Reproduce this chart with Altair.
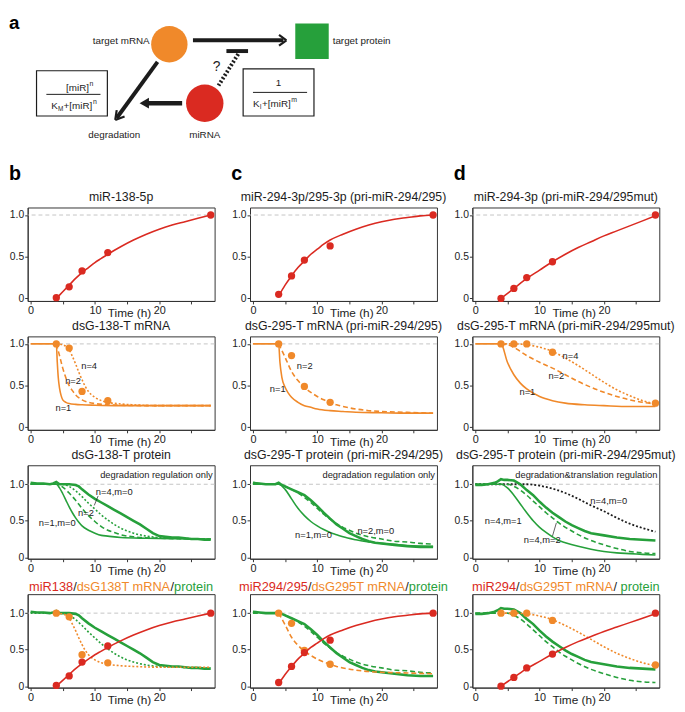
import altair as alt
import pandas as pd

FONT = "Liberation Sans"
RED = "#da2a21"
ORANGE = "#f0892a"
GREEN = "#26a03b"
INK = "#1c1c1c"
REFC = "#c4c4c4"

# ================= column b : miR-138 =================
b_mir_t = [4, 5, 6, 7, 8, 9, 10, 11, 12, 14, 16, 18, 20, 22, 24, 26, 28]
b_mir_v = [0.0, 0.08, 0.16, 0.24, 0.31, 0.37, 0.43, 0.48, 0.53, 0.62, 0.70, 0.77, 0.83, 0.88, 0.92, 0.96, 1.0]
b_mir_pt_t = [4, 6, 8, 12, 28]
b_mir_pt_v = [0.01, 0.14, 0.33, 0.55, 1.0]

b_n1_t = [0, 4, 4.15, 4.3, 4.5, 4.75, 5, 5.5, 6, 7, 8, 10, 14, 20, 28]
b_n1_v = [1, 1, 0.78, 0.6, 0.47, 0.38, 0.33, 0.3, 0.285, 0.275, 0.27, 0.265, 0.26, 0.26, 0.26]
b_n2_t = [4, 4.5, 5, 5.5, 6, 6.5, 7, 8, 9, 10, 12, 14, 18, 28]
b_n2_v = [1, 0.86, 0.71, 0.59, 0.5, 0.44, 0.39, 0.33, 0.3, 0.285, 0.27, 0.265, 0.26, 0.26]
b_n4_t = [4, 5, 5.5, 6, 6.5, 7, 7.5, 8, 8.5, 9, 10, 11, 12, 14, 16, 20, 28]
b_n4_v = [1, 0.99, 0.97, 0.93, 0.85, 0.76, 0.66, 0.57, 0.49, 0.43, 0.36, 0.32, 0.3, 0.28, 0.27, 0.26, 0.26]
b_mrna_pt_t = [4, 6, 8, 12]
b_mrna_pt_v = [1.0, 0.95, 0.43, 0.32]
b_mrna_lab = ["n=4", "n=2", "n=1"]
b_mrna_lab_t = [9.1, 6.6, 5.1]
b_mrna_lab_v = [0.74, 0.55, 0.23]

b_prot_t = [0, 1, 2, 3, 3.5, 4, 4.5, 5, 6, 7, 7.5, 8, 9, 10, 11, 12, 13, 14, 15, 16, 17, 18, 19, 20, 21, 22, 23, 24, 25, 26, 27, 28]
b_prot_v = [1.02, 1.01, 1.01, 1.0, 1.01, 1.03, 1.0, 1.0, 1.0, 0.99, 0.97, 0.93, 0.86, 0.8, 0.75, 0.7, 0.65, 0.6, 0.55, 0.5, 0.45, 0.39, 0.33, 0.29, 0.28, 0.27, 0.27, 0.26, 0.25, 0.25, 0.24, 0.24]
b_p_n1_t = [0, 4, 4.5, 5, 5.5, 6, 6.5, 7, 7.5, 8, 9, 10, 11, 12, 14, 18, 28]
b_p_n1_v = [1, 1, 0.95, 0.87, 0.78, 0.69, 0.61, 0.54, 0.48, 0.43, 0.37, 0.33, 0.3, 0.29, 0.27, 0.26, 0.25]
b_p_n2_t = [0, 4, 5, 6, 7, 8, 9, 10, 11, 12, 13, 14, 16, 20, 28]
b_p_n2_v = [1, 1, 0.96, 0.88, 0.78, 0.67, 0.57, 0.49, 0.42, 0.37, 0.34, 0.31, 0.28, 0.26, 0.25]
b_p_n4_t = [0, 5, 6, 7, 8, 9, 10, 11, 12, 13, 14, 15, 16, 18, 20, 28]
b_p_n4_v = [1, 1, 0.97, 0.91, 0.83, 0.74, 0.66, 0.58, 0.51, 0.45, 0.4, 0.36, 0.33, 0.29, 0.27, 0.25]
b_prot_lab = ["n=4,m=0", "n=2", "n=1,m=0"]
b_prot_lab_t = [13.0, 8.6, 4.15]
b_prot_lab_v = [0.89, 0.6, 0.47]
b_lead_t, b_lead_v, b_lead_t2, b_lead_v2 = [10.5], [0.84], [9.9], [0.71]

# ================= column c : miR-294/295 =================
c_mir_t = [4, 5, 6, 7, 8, 9, 10, 11, 12, 14, 16, 18, 20, 22, 24, 26, 28]
c_mir_v = [0.03, 0.16, 0.27, 0.37, 0.45, 0.53, 0.59, 0.65, 0.70, 0.77, 0.83, 0.88, 0.92, 0.95, 0.97, 0.99, 1.0]
c_mir_pt_t = [4, 6, 8, 12, 28]
c_mir_pt_v = [0.05, 0.27, 0.46, 0.63, 1.0]

c_n1_t = [0, 4, 4.2, 4.5, 5, 5.5, 6, 7, 8, 9, 10, 12, 14, 16, 20, 24, 28]
c_n1_v = [1, 1, 0.78, 0.6, 0.48, 0.41, 0.36, 0.3, 0.26, 0.24, 0.22, 0.2, 0.19, 0.18, 0.175, 0.17, 0.17]
c_n2_t = [4, 5, 6, 7, 8, 9, 10, 11, 12, 13, 14, 16, 18, 20, 24, 28]
c_n2_v = [1, 0.84, 0.67, 0.56, 0.48, 0.42, 0.37, 0.33, 0.3, 0.27, 0.25, 0.22, 0.2, 0.19, 0.18, 0.17]
c_mrna_pt_t = [4, 6, 8, 12]
c_mrna_pt_v = [1.0, 0.86, 0.49, 0.30]
c_mrna_lab = ["n=2", "n=1"]
c_mrna_lab_t = [8.05, 3.85]
c_mrna_lab_v = [0.73, 0.46]

c_prot_t = [0, 1, 2, 3, 3.5, 4, 4.5, 5, 6, 7, 8, 9, 10, 11, 12, 13, 14, 15, 16, 17, 18, 19, 20, 22, 24, 26, 28]
c_prot_v = [1.02, 1.01, 1.0, 1.0, 1.0, 1.02, 0.99, 0.97, 0.93, 0.89, 0.85, 0.78, 0.7, 0.61, 0.53, 0.45, 0.39, 0.33, 0.29, 0.25, 0.22, 0.2, 0.19, 0.17, 0.15, 0.14, 0.14]
c_p_n1_t = [0, 4, 5, 6, 7, 8, 9, 10, 11, 12, 13, 14, 16, 18, 20, 24, 28]
c_p_n1_v = [1, 1, 0.93, 0.8, 0.67, 0.57, 0.49, 0.43, 0.38, 0.34, 0.31, 0.28, 0.24, 0.21, 0.19, 0.16, 0.15]
c_p_n2_t = [0, 4, 5, 6, 7, 8, 9, 10, 11, 12, 13, 14, 15, 16, 18, 20, 22, 24, 26, 28]
c_p_n2_v = [1, 1, 0.97, 0.93, 0.88, 0.82, 0.75, 0.67, 0.59, 0.52, 0.46, 0.41, 0.37, 0.33, 0.28, 0.25, 0.22, 0.21, 0.19, 0.18]
c_prot_lab = ["n=1,m=0", "n=2,m=0"]
c_prot_lab_t = [9.4, 19.1]
c_prot_lab_v = [0.30, 0.36]

# ================= column d : miR-294 (mut) =================
d_mir_t = [4, 6, 8, 10, 12, 14, 16, 18, 20, 22, 24, 26, 28]
d_mir_v = [0.0, 0.12, 0.24, 0.34, 0.44, 0.53, 0.61, 0.68, 0.75, 0.81, 0.87, 0.93, 0.99]
d_mir_pt_t = [4, 6, 8, 12, 28]
d_mir_pt_v = [0.0, 0.12, 0.25, 0.44, 1.0]

d_n1_t = [0, 4, 5, 6, 7, 8, 10, 12, 14, 17, 20, 24, 28]
d_n1_v = [1, 1, 0.78, 0.63, 0.53, 0.46, 0.37, 0.32, 0.29, 0.27, 0.26, 0.25, 0.25]
d_n2_t = [4, 5, 6, 7, 8, 10, 12, 14, 16, 18, 20, 22, 24, 26, 28]
d_n2_v = [1, 0.99, 0.96, 0.91, 0.86, 0.78, 0.71, 0.63, 0.55, 0.48, 0.42, 0.37, 0.33, 0.30, 0.28]
d_n4_t = [4, 6, 8, 10, 12, 14, 16, 18, 20, 22, 24, 26, 28]
d_n4_v = [1, 1, 0.99, 0.96, 0.91, 0.83, 0.74, 0.64, 0.54, 0.45, 0.38, 0.32, 0.28]
d_mrna_pt_t = [4, 6, 8, 12, 28]
d_mrna_pt_v = [1.0, 1.0, 1.0, 0.9, 0.29]
d_mrna_lab = ["n=4", "n=2", "n=1"]
d_mrna_lab_t = [14.8, 12.6, 8.1]
d_mrna_lab_v = [0.86, 0.62, 0.42]

d_prot_t = [0, 1, 2, 3, 3.5, 4, 4.5, 5, 6, 7, 8, 9, 10, 11, 12, 13, 14, 15, 16, 17, 18, 20, 22, 24, 26, 28]
d_prot_v = [0.99, 0.99, 1.0, 1.02, 1.04, 1.07, 1.06, 1.06, 1.05, 1.0, 0.92, 0.85, 0.76, 0.68, 0.61, 0.55, 0.49, 0.44, 0.4, 0.36, 0.33, 0.3, 0.27, 0.25, 0.24, 0.23]
d_p_m0_t = [0, 4, 6, 8, 10, 12, 14, 16, 18, 20, 22, 24, 26, 28]
d_p_m0_v = [1, 1, 1, 1.0, 0.98, 0.94, 0.88, 0.8, 0.71, 0.63, 0.54, 0.46, 0.4, 0.35]
d_p_m1_t = [0, 4, 5, 6, 7, 8, 9, 10, 11, 12, 13, 14, 16, 18, 20, 22, 24, 26, 28]
d_p_m1_v = [1, 1, 0.95, 0.85, 0.73, 0.61, 0.5, 0.41, 0.34, 0.28, 0.23, 0.2, 0.15, 0.11, 0.08, 0.06, 0.05, 0.04, 0.03]
d_p_m2_t = [0, 4, 5, 6, 7, 8, 9, 10, 11, 12, 13, 14, 15, 16, 18, 20, 22, 24, 26, 28]
d_p_m2_v = [1, 1, 1, 0.97, 0.92, 0.85, 0.77, 0.69, 0.61, 0.54, 0.47, 0.41, 0.36, 0.31, 0.23, 0.17, 0.12, 0.08, 0.06, 0.05]
d_prot_lab = ["n=4,m=0", "n=4,m=1", "n=4,m=2"]
d_prot_lab_t = [20.75, 4.35, 10.4]
d_prot_lab_v = [0.77, 0.5, 0.24]
d_lead_t, d_lead_v, d_lead_t2, d_lead_v2 = [12.0], [0.29], [12.6], [0.47]

# ================= titles =================
titles_row1 = ["miR-138-5p", "miR-294-3p/295-3p (pri-miR-294/295)", "miR-294-3p (pri-miR-294/295mut)"]
titles_row2 = ["dsG-138-T mRNA", "dsG-295-T mRNA (pri-miR-294/295)", "dsG-295-T mRNA (pri-miR-294/295mut)"]
titles_row3 = ["dsG-138-T protein", "dsG-295-T protein (pri-miR-294/295)", "dsG-295-T protein (pri-miR-294/295mut)"]
titles_row4 = [
    [("miR138", RED), ("/", INK), ("dsG138T mRNA", ORANGE), ("/", INK), ("protein", GREEN)],
    [("miR294/295", RED), ("/", INK), ("dsG295T mRNA", ORANGE), ("/", INK), ("protein", GREEN)],
    [("miR294", RED), ("/", INK), ("dsG295T mRNA", ORANGE), ("/ ", INK), ("protein", GREEN)],
]
notes_row3 = ["degradation regulation only", "degradation regulation only", "degradation&translation regulation"]

# ================= diagram (panel a) + panel letters =================
rule_x = [192, 287, 287, 156, 113, 113, 181, 226, 43, 253]
rule_y = [34, 34, 34, 56, 115, 115, 98, 45, 89, 87]
rule_x2 = [284, 279.5, 279.5, 114.5, 122.5, 114.5, 146, 248, 98, 308]
rule_y2 = [34, 28.5, 39.5, 113, 111.5, 105, 98, 45, 89, 87]
rule_w = [4, 2.2, 2.2, 4, 2.2, 2.2, 4.5, 4, 1, 1]
dot_x, dot_y, dot_x2, dot_y2 = [238], [48], [218], [80]
node_x = [168, 204]
node_y = [38, 98]
node_c = [ORANGE, RED]
node_s = [1369, 1444]
sq_x, sq_x2, sq_y, sq_y2 = [296], [330], [17], [53]
box_x = [33, 243]
box_x2 = [105, 315]
box_y = [65, 63]
box_y2 = [111, 111]
tl_text = ["target protein", "[miR]", "n", "K", "M", "+[miR]", "n", "K", "I", "+[miR]", "m"]
tl_x = [334, 63, 86.8, 48, 54.8, 60.5, 90.5, 253, 259.8, 262.3, 291.8]
tl_y = [35, 83, 79, 101, 103.5, 101, 97, 99, 101.5, 99, 95]
tl_s = [10, 10, 7, 10, 6.5, 10, 7, 10, 6.5, 10, 7]
tc_text = ["?", "degradation", "miRNA", "1"]
tc_x = [216, 112, 204, 279]
tc_y = [61, 130, 130, 77]
tc_s = [14, 10, 10, 10]
tr_text = ["target mRNA"]
tr_x = [148]
tr_y = [35]
tr_s = [10]
letter_text = ["b", "c", "d"]
letter_x = [5, 231, 457]
letter_y = [176, 176, 176]

# ================= helpers =================
AW = {'m': 833, 'i': 222, 'R': 722, '1': 556, '3': 556, '8': 556, '/': 278, 'd': 556, 's': 500,
      'G': 778, 'T': 611, ' ': 278, 'N': 722, 'A': 667, 'p': 556, 'r': 333, 'o': 556, 't': 278,
      'e': 556, 'n': 556, '2': 556, '9': 556, '5': 556, '4': 556, 'M': 833}


def tw(s, size):
    return sum(AW.get(ch, 556) for ch in s) * size / 1000.0


DUMMY = pd.DataFrame({"k": [0]})
W, H = 190, 95
XDOM = [-0.45, 28.6]
Y12 = [-0.03, 1.09]
Y34 = [-0.02, 1.26]

XAXIS = alt.Axis(values=[0, 5, 10, 15, 20, 25],
                 labelExpr="datum.value % 10 == 0 ? datum.label : ''",
                 title="Time (h)", titleX=103, titleY=7, titleBaseline="top",
                 titleFontSize=12, titleFontWeight="normal", labelFontSize=11,
                 tickSize=3, labelPadding=1, labelAngle=0, labelOverlap=False, grid=False)
YAXIS = alt.Axis(values=[0, 0.25, 0.5, 0.75, 1.0],
                 labelExpr="datum.value == 0 ? '0' : datum.value == 0.5 ? '0.5' : datum.value == 1 ? '1.0' : ''",
                 title=None, labelFontSize=10.5, tickSize=3, labelPadding=1, grid=False)


def enc(chart, ydom):
    return chart.encode(
        x=alt.X("t:Q", scale=alt.Scale(domain=XDOM, nice=False, zero=False), axis=XAXIS),
        y=alt.Y("v:Q", scale=alt.Scale(domain=ydom, nice=False, zero=False), axis=YAXIS),
    )


def curve(t, v, color, dash=None, width=1.6, interp="monotone"):
    kw = dict(color=color, strokeWidth=width, interpolate=interp)
    if dash:
        kw["strokeDash"] = dash
    return alt.Chart(pd.DataFrame({"t": t, "v": v})).mark_line(**kw)


def data_line(t, v):
    return curve(t, v, GREEN, width=2.6, interp="linear")


def dots(t, v, color):
    return alt.Chart(pd.DataFrame({"t": t, "v": v})).mark_circle(size=55, color=color, opacity=1)


def labels(texts, t, v, size=9.5, align="center"):
    return alt.Chart(pd.DataFrame({"t": t, "v": v, "s": texts})).mark_text(
        font=FONT, fontSize=size, color=INK, align=align, baseline="middle").encode(text="s:N")


def leader(t, v, t2, v2):
    return alt.Chart(pd.DataFrame({"t": t, "v": v, "t2": t2, "v2": v2})).mark_rule(
        color=INK, strokeWidth=0.7).encode(x2="t2:Q", y2="v2:Q")


def ref_rule():
    return alt.Chart(DUMMY).mark_rule(color=REFC, strokeDash=[4, 3], strokeWidth=1).encode(
        y=alt.datum(1.0))


def colored_title(segs, size=13):
    total = sum(tw(s, size) for s, _ in segs)
    x = (W - total) / 2.0
    out = []
    for s, col in segs:
        out.append(alt.Chart(DUMMY).mark_text(text=s, font=FONT, fontSize=size, color=col,
                                              align="left", baseline="alphabetic").encode(
            x=alt.value(x), y=alt.value(-3)))
        x += tw(s, size)
    return out


def panel(ydom, layers, extras=(), title=None):
    ch = alt.layer(ref_rule(), *[enc(l, ydom) for l in layers], *extras).properties(width=W, height=H)
    if title:
        ch = ch.properties(title=alt.TitleParams(title, fontSize=12.5, fontWeight="normal",
                                                 font=FONT, color=INK, offset=4))
    return ch


def note(text):
    return labels([text], [28.3], [1.13], size=9.5, align="right")


# ================= panels =================
row1 = [
    panel(Y12, [curve(b_mir_t, b_mir_v, RED), dots(b_mir_pt_t, b_mir_pt_v, RED)], (), titles_row1[0]),
    panel(Y12, [curve(c_mir_t, c_mir_v, RED), dots(c_mir_pt_t, c_mir_pt_v, RED)], (), titles_row1[1]),
    panel(Y12, [curve(d_mir_t, d_mir_v, RED), dots(d_mir_pt_t, d_mir_pt_v, RED)], (), titles_row1[2]),
]

row2 = [
    panel(Y12, [curve(b_n1_t, b_n1_v, ORANGE),
                curve(b_n2_t, b_n2_v, ORANGE, dash=[5, 3]),
                curve(b_n4_t, b_n4_v, ORANGE, dash=[2, 2]),
                dots(b_mrna_pt_t, b_mrna_pt_v, ORANGE),
                labels(b_mrna_lab, b_mrna_lab_t, b_mrna_lab_v)], (), titles_row2[0]),
    panel(Y12, [curve(c_n1_t, c_n1_v, ORANGE),
                curve(c_n2_t, c_n2_v, ORANGE, dash=[5, 3]),
                dots(c_mrna_pt_t, c_mrna_pt_v, ORANGE),
                labels(c_mrna_lab, c_mrna_lab_t, c_mrna_lab_v)], (), titles_row2[1]),
    panel(Y12, [curve(d_n1_t, d_n1_v, ORANGE),
                curve(d_n2_t, d_n2_v, ORANGE, dash=[5, 3]),
                curve(d_n4_t, d_n4_v, ORANGE, dash=[2, 2]),
                dots(d_mrna_pt_t, d_mrna_pt_v, ORANGE),
                labels(d_mrna_lab, d_mrna_lab_t, d_mrna_lab_v)], (), titles_row2[2]),
]

row3 = [
    panel(Y34, [curve(b_p_n1_t, b_p_n1_v, GREEN),
                curve(b_p_n2_t, b_p_n2_v, GREEN, dash=[5, 3]),
                curve(b_p_n4_t, b_p_n4_v, GREEN, dash=[2, 2]),
                data_line(b_prot_t, b_prot_v),
                leader(b_lead_t, b_lead_v, b_lead_t2, b_lead_v2),
                labels(b_prot_lab, b_prot_lab_t, b_prot_lab_v),
                note(notes_row3[0])], (), titles_row3[0]),
    panel(Y34, [curve(c_p_n1_t, c_p_n1_v, GREEN),
                curve(c_p_n2_t, c_p_n2_v, GREEN, dash=[5, 3]),
                data_line(c_prot_t, c_prot_v),
                labels(c_prot_lab, c_prot_lab_t, c_prot_lab_v),
                note(notes_row3[1])], (), titles_row3[1]),
    panel(Y34, [curve(d_p_m0_t, d_p_m0_v, INK, dash=[2, 2], width=1.8),
                curve(d_p_m1_t, d_p_m1_v, GREEN),
                curve(d_p_m2_t, d_p_m2_v, GREEN, dash=[5, 3]),
                data_line(d_prot_t, d_prot_v),
                leader(d_lead_t, d_lead_v, d_lead_t2, d_lead_v2),
                labels(d_prot_lab, d_prot_lab_t, d_prot_lab_v),
                note(notes_row3[2])], (), titles_row3[2]),
]

row4 = [
    panel(Y34, [curve(b_p_n4_t, b_p_n4_v, GREEN, dash=[2, 2]),
                data_line(b_prot_t, b_prot_v),
                curve(b_n4_t, b_n4_v, ORANGE, dash=[2, 2]),
                dots(b_mrna_pt_t, b_mrna_pt_v, ORANGE),
                curve(b_mir_t, b_mir_v, RED),
                dots(b_mir_pt_t, b_mir_pt_v, RED)], colored_title(titles_row4[0])),
    panel(Y34, [curve(c_p_n2_t, c_p_n2_v, GREEN, dash=[5, 3]),
                data_line(c_prot_t, c_prot_v),
                curve(c_n2_t, c_n2_v, ORANGE, dash=[5, 3]),
                dots(c_mrna_pt_t, c_mrna_pt_v, ORANGE),
                curve(c_mir_t, c_mir_v, RED),
                dots(c_mir_pt_t, c_mir_pt_v, RED)], colored_title(titles_row4[1])),
    panel(Y34, [curve(d_p_m2_t, d_p_m2_v, GREEN, dash=[5, 3]),
                data_line(d_prot_t, d_prot_v),
                curve(d_n4_t, d_n4_v, ORANGE, dash=[2, 2]),
                dots(d_mrna_pt_t, d_mrna_pt_v, ORANGE),
                curve(d_mir_t, d_mir_v, RED),
                dots(d_mir_pt_t, d_mir_pt_v, RED)], colored_title(titles_row4[2])),
]

# ================= diagram =================
DX0, DW = 24, 640
DY0, DH = 8, 172
XS = alt.Scale(domain=[DX0, DX0 + DW], nice=False, zero=False)
YS = alt.Scale(domain=[DY0, DY0 + DH], nice=False, zero=False, reverse=True)


def dx(f):
    return alt.X(f, scale=XS, axis=None)


def dy(f):
    return alt.Y(f, scale=YS, axis=None)


d_rules = alt.Chart(pd.DataFrame({"x": rule_x, "y": rule_y, "x2": rule_x2, "y2": rule_y2, "w": rule_w})).mark_rule(
    color=INK, strokeCap="butt").encode(x=dx("x:Q"), y=dy("y:Q"), x2="x2:Q", y2="y2:Q",
                                        strokeWidth=alt.StrokeWidth("w:Q", scale=None))
d_dotted = alt.Chart(pd.DataFrame({"x": dot_x, "y": dot_y, "x2": dot_x2, "y2": dot_y2})).mark_rule(
    color=INK, strokeWidth=4, strokeDash=[2, 2], strokeCap="butt").encode(
    x=dx("x:Q"), y=dy("y:Q"), x2="x2:Q", y2="y2:Q")
d_nodes = alt.Chart(pd.DataFrame({"x": node_x, "y": node_y, "c": node_c, "s": node_s})).mark_point(
    filled=True, shape="circle", opacity=1).encode(
    x=dx("x:Q"), y=dy("y:Q"), color=alt.Color("c:N", scale=None), size=alt.Size("s:Q", scale=None))
d_head = alt.Chart(pd.DataFrame({"x": [142.5], "y": [98]})).mark_point(
    filled=True, shape="triangle-left", size=120, color=INK, opacity=1).encode(x=dx("x:Q"), y=dy("y:Q"))
d_square = alt.Chart(pd.DataFrame({"x": sq_x, "x2": sq_x2, "y": sq_y, "y2": sq_y2})).mark_rect(
    color=GREEN).encode(x=dx("x:Q"), x2="x2:Q", y=dy("y:Q"), y2="y2:Q")
d_boxes = alt.Chart(pd.DataFrame({"x": box_x, "x2": box_x2, "y": box_y, "y2": box_y2})).mark_rect(
    fillOpacity=0, stroke=INK, strokeWidth=1.2).encode(x=dx("x:Q"), x2="x2:Q", y=dy("y:Q"), y2="y2:Q")


def dtext(texts, xs, ys, sizes, align):
    return alt.Chart(pd.DataFrame({"x": xs, "y": ys, "t": texts, "s": sizes})).mark_text(
        font=FONT, color=INK, align=align, baseline="middle").encode(
        x=dx("x:Q"), y=dy("y:Q"), text="t:N", size=alt.Size("s:Q", scale=None))


d_a = alt.Chart(pd.DataFrame({"x": [5], "y": [8]})).mark_text(
    text="a", font=FONT, fontSize=19, fontWeight="bold", color="#000", align="left",
    baseline="top").encode(x=dx("x:Q"), y=dy("y:Q"))

d_letters = alt.Chart(pd.DataFrame({"x": letter_x, "y": letter_y, "t": letter_text})).mark_text(
    font=FONT, fontSize=20, fontWeight="bold", color="#000", align="left",
    baseline="alphabetic").encode(x=dx("x:Q"), y=dy("y:Q"), text="t:N")

diagram = alt.layer(
    d_rules, d_dotted, d_nodes, d_head, d_square, d_boxes,
    dtext(tl_text, tl_x, tl_y, tl_s, "left"),
    dtext(tc_text, tc_x, tc_y, tc_s, "center"),
    dtext(tr_text, tr_x, tr_y, tr_s, "right"),
    d_a, d_letters,
).properties(width=DW, height=DH, view=alt.ViewBackground(stroke="transparent"))

grid = alt.concat(*(row1 + row2 + row3 + row4), columns=3, spacing=36, bounds="flush")

chart = alt.vconcat(diagram, grid, spacing=6).properties(
    padding=0
).configure(font=FONT).configure_view(stroke="#333", strokeWidth=1).configure_axis(
    domainColor="#333", tickColor="#333", labelColor="#222", titleColor="#222",
    labelFont=FONT, titleFont=FONT)

chart.save("out.html", embed_options={"renderer": "svg", "actions": False})
